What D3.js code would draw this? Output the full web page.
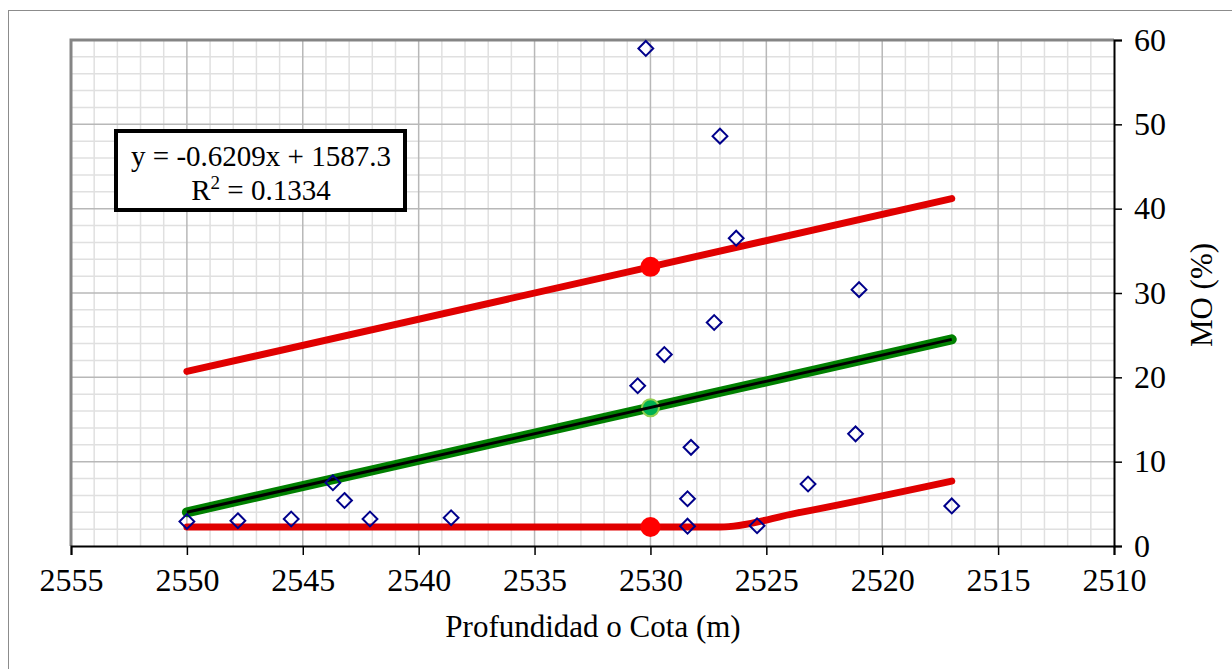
<!DOCTYPE html>
<html>
<head>
<meta charset="utf-8">
<script src="https://cdn.jsdelivr.net/npm/d3@7"></script>
<style>
  html, body { margin: 0; padding: 0; background: #fff; }
  svg { display: block; }
  text { font-family: "Liberation Serif", "DejaVu Serif", serif; fill: #000; }
</style>
</head>
<body>
<svg id="chart" width="1232" height="669"></svg>
<script>
// Measured organic matter versus depth / elevation
const depth = [2550.0, 2547.8, 2545.5, 2543.7, 2543.2, 2542.1, 2538.6,
               2530.2, 2527.0, 2526.3, 2527.25, 2529.4, 2530.55, 2528.25,
               2528.4, 2528.4, 2525.4, 2523.2, 2521.0, 2521.15, 2517.0];
const mo    = [2.9, 3.0, 3.2, 7.5, 5.4, 3.2, 3.35,
               59.0, 48.6, 36.5, 26.5, 22.7, 19.0, 11.7,
               5.6, 2.35, 2.4, 7.35, 30.4, 13.3, 4.75];

// Linear trend (y = -0.6209x + 1587.3) and the band around it
const trendX = [2550, 2517];
const trendY = [4.0, 24.5];
const upperX = [2550, 2530, 2517];
const upperY = [20.7, 33.1, 41.2];
const lowerX = [2550, 2530, 2527.0, 2523.7, 2517];
const lowerY = [2.25, 2.25, 2.25, 3.9, 7.7];

// Highlighted values at the reference depth
const markX = 2530;
const markUpper = 33.1;
const markMid = 16.4;
const markLower = 2.25;

const xTicks = [2555, 2550, 2545, 2540, 2535, 2530, 2525, 2520, 2515, 2510];
const yTicks = [0, 10, 20, 30, 40, 50, 60];
const eqLines = ["y = -0.6209x + 1587.3", "R² = 0.1334"];

const svg = d3.select("#chart");
const L = 71, R = 1114, T = 40, B = 546;

const x = d3.scaleLinear().domain([2555, 2510]).range([L, R]);
const y = d3.scaleLinear().domain([0, 60]).range([B, T]);

// Outer chart frame
svg.append("rect").attr("x", 8.5).attr("y", 10.5).attr("width", 1240).attr("height", 680)
  .attr("fill", "#fff").attr("stroke", "#8c8c8c").attr("stroke-width", 1);

// Grid: minor then major
const grid = svg.append("g");
grid.selectAll(".vminor").data(d3.range(2554, 2510, -1).filter(v => v % 5 !== 0)).join("line")
  .attr("x1", d => x(d)).attr("x2", d => x(d)).attr("y1", T).attr("y2", B)
  .attr("stroke", "#e0e0e0").attr("stroke-width", 1.5);
grid.selectAll(".hminor").data(d3.range(2, 60, 2).filter(v => v % 10 !== 0)).join("line")
  .attr("x1", L).attr("x2", R).attr("y1", d => y(d)).attr("y2", d => y(d))
  .attr("stroke", "#e0e0e0").attr("stroke-width", 1.5);
grid.selectAll(".vmajor").data(xTicks.slice(1, -1)).join("line")
  .attr("x1", d => x(d)).attr("x2", d => x(d)).attr("y1", T).attr("y2", B)
  .attr("stroke", "#b8b8b8").attr("stroke-width", 1.5);
grid.selectAll(".hmajor").data(yTicks.slice(1, -1)).join("line")
  .attr("x1", L).attr("x2", R).attr("y1", d => y(d)).attr("y2", d => y(d))
  .attr("stroke", "#b8b8b8").attr("stroke-width", 1.5);

// Plot area frame (top / left)
svg.append("path").attr("d", `M${L},${B} V${T} H${R}`)
  .attr("fill", "none").attr("stroke", "#858585").attr("stroke-width", 3);

// Axes
const xAxis = d3.axisBottom(x).tickValues(xTicks).tickSize(9).tickPadding(13).tickFormat(d3.format("d"));
const gx = svg.append("g").attr("transform", `translate(0,${B})`).call(xAxis);
gx.select(".domain").attr("stroke", "#000").attr("stroke-width", 2);
gx.selectAll(".tick line").attr("stroke", "#000").attr("stroke-width", 1.5);
gx.selectAll("text").attr("font-size", 32).attr("font-family", "Liberation Serif");

const yAxis = d3.axisRight(y).tickValues(yTicks).tickSize(8).tickPadding(12);
const gy = svg.append("g").attr("transform", `translate(${R},0)`).call(yAxis);
gy.select(".domain").attr("stroke", "#000").attr("stroke-width", 2);
gy.selectAll(".tick line").attr("stroke", "#000").attr("stroke-width", 1.5);
gy.selectAll("text").attr("font-size", 32).attr("font-family", "Liberation Serif");

// Axis titles
svg.append("text").attr("x", 593).attr("y", 637).attr("text-anchor", "middle")
  .attr("font-size", 31).text("Profundidad o Cota (m)");
svg.append("text").attr("transform", "translate(1212,295) rotate(-90)").attr("text-anchor", "middle")
  .attr("font-size", 31).text("MO (%)");

const line = d3.line().x(d => x(d[0])).y(d => y(d[1]));
const smooth = d3.line().x(d => x(d[0])).y(d => y(d[1])).curve(d3.curveMonotoneX);
const zip = (a, b) => a.map((v, i) => [v, b[i]]);

// Central series (green) with the trend line on top
svg.append("path").datum(zip(trendX, trendY)).attr("d", line)
  .attr("fill", "none").attr("stroke", "#008000").attr("stroke-width", 10).attr("stroke-linecap", "round");

// Band limits
svg.append("path").datum(zip(upperX, upperY)).attr("d", line)
  .attr("fill", "none").attr("stroke", "#e00000").attr("stroke-width", 7)
  .attr("stroke-linecap", "round").attr("stroke-linejoin", "round");
svg.append("path").datum(zip(lowerX, lowerY)).attr("d", smooth)
  .attr("fill", "none").attr("stroke", "#e00000").attr("stroke-width", 7)
  .attr("stroke-linecap", "round").attr("stroke-linejoin", "round");

// Marked values
svg.append("circle").attr("cx", x(markX)).attr("cy", y(markUpper)).attr("r", 10).attr("fill", "#ff0000");
svg.append("circle").attr("cx", x(markX)).attr("cy", y(markLower)).attr("r", 10).attr("fill", "#ff0000");
svg.append("circle").attr("cx", x(markX)).attr("cy", y(markMid)).attr("r", 8.5)
  .attr("fill", "#00b050").attr("stroke", "#92d050").attr("stroke-width", 2);

svg.append("path").datum(zip(trendX, trendY)).attr("d", line)
  .attr("fill", "none").attr("stroke", "#000").attr("stroke-width", 3);

// Measured samples
svg.append("g").selectAll("path").data(zip(depth, mo)).join("path")
  .attr("d", d3.symbol(d3.symbolDiamond2, 140))
  .attr("transform", d => `translate(${x(d[0])},${y(d[1])})`)
  .attr("fill", "none").attr("stroke", "#00008b").attr("stroke-width", 2);

// Trend equation label
svg.append("rect").attr("x", 116).attr("y", 131).attr("width", 289).attr("height", 79)
  .attr("fill", "#fff").attr("stroke", "#000").attr("stroke-width", 4);
const eq = svg.append("text").attr("text-anchor", "middle").attr("font-size", 29);
eq.append("tspan").attr("x", 261).attr("y", 166).text(eqLines[0]);
const r2 = svg.append("text").attr("x", 261).attr("y", 200).attr("text-anchor", "middle").attr("font-size", 29);
r2.append("tspan").text("R");
r2.append("tspan").attr("dy", -11).attr("font-size", 19).text("2");
r2.append("tspan").attr("dy", 11).text(eqLines[1].slice(2));
</script>
</body>
</html>
